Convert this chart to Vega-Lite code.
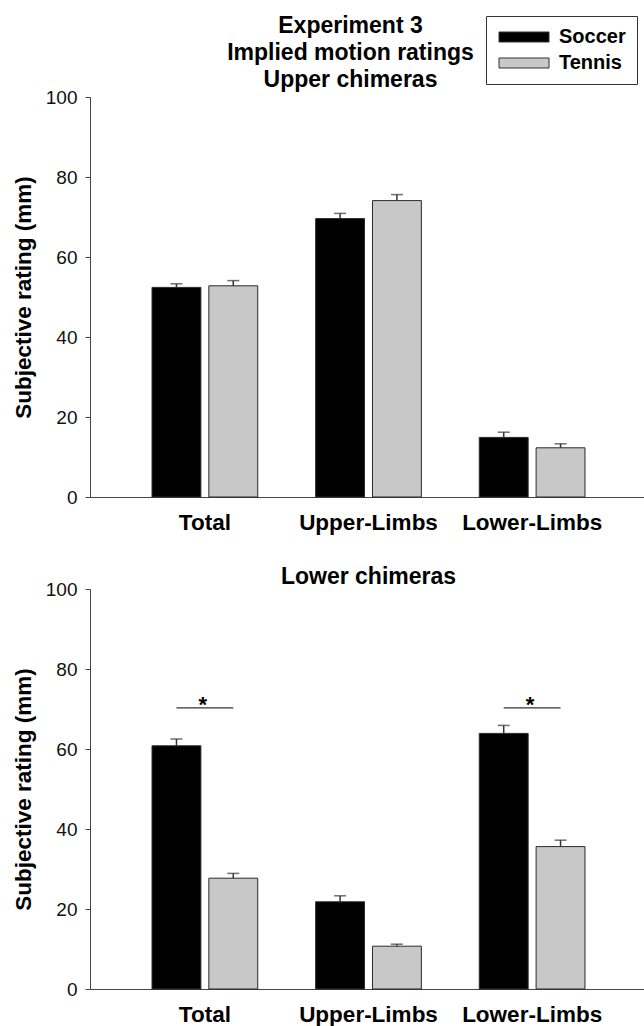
{
  "$schema": "https://vega.github.io/schema/vega-lite/v6.json",
  "padding": {"left": 12, "top": 14, "right": 0, "bottom": 0},
  "config": {
    "font": "Liberation Sans",
    "view": {"stroke": null},
    "axisX": {"labelFontSize": 22.5, "labelFontWeight": "bold", "ticks": false, "labelPadding": 14, "domainColor": "#444444", "labelColor": "#000000", "labelAngle": 0, "title": null},
    "axisY": {"labelFontSize": 19, "labelPadding": 8, "tickSize": 5, "grid": false, "domainColor": "#444444", "tickColor": "#444444", "labelColor": "#111111", "titleFontSize": 22.5, "titleFontWeight": "bold", "titlePadding": 10, "titleColor": "#000000"}
  },
  "datasets": {
    "upper": [
      {"region": "Total", "sport": "Soccer", "mean": 52.4, "upper": 53.3},
      {"region": "Total", "sport": "Tennis", "mean": 52.8, "upper": 54.1},
      {"region": "Upper-Limbs", "sport": "Soccer", "mean": 69.6, "upper": 70.9},
      {"region": "Upper-Limbs", "sport": "Tennis", "mean": 74.1, "upper": 75.6},
      {"region": "Lower-Limbs", "sport": "Soccer", "mean": 14.9, "upper": 16.2},
      {"region": "Lower-Limbs", "sport": "Tennis", "mean": 12.3, "upper": 13.3}
    ],
    "lower": [
      {"region": "Total", "sport": "Soccer", "mean": 60.8, "upper": 62.5},
      {"region": "Total", "sport": "Tennis", "mean": 27.7, "upper": 28.9},
      {"region": "Upper-Limbs", "sport": "Soccer", "mean": 21.8, "upper": 23.3},
      {"region": "Upper-Limbs", "sport": "Tennis", "mean": 10.7, "upper": 11.2},
      {"region": "Lower-Limbs", "sport": "Soccer", "mean": 63.9, "upper": 65.9},
      {"region": "Lower-Limbs", "sport": "Tennis", "mean": 35.6, "upper": 37.2}
    ],
    "sig": [
      {"region": "Total", "sport": "Soccer", "level": 70.3},
      {"region": "Total", "sport": "Tennis", "level": 70.3},
      {"region": "Lower-Limbs", "sport": "Soccer", "level": 70.3},
      {"region": "Lower-Limbs", "sport": "Tennis", "level": 70.3}
    ],
    "stars": [
      {"region": "Total", "level": 70.3, "label": "*"},
      {"region": "Lower-Limbs", "level": 70.3, "label": "*"}
    ]
  },
  "spacing": 32,
  "resolve": {"scale": {"color": "independent"}, "legend": {"color": "independent"}},
  "vconcat": [
    {
      "width": 557,
      "height": 400,
      "title": {"text": ["Experiment 3", "Implied motion ratings", "Upper chimeras"], "fontSize": 23, "fontWeight": "bold", "lineHeight": 27, "anchor": "middle", "dx": -18, "dy": 82, "offset": 6, "color": "#000000"},
      "data": {"name": "upper"},
      "encoding": {
        "x": {"field": "region", "type": "nominal", "sort": ["Total", "Upper-Limbs", "Lower-Limbs"], "scale": {"paddingInner": 0.354, "paddingOuter": 0.379}},
        "xOffset": {"field": "sport", "type": "nominal", "sort": ["Soccer", "Tennis"], "scale": {"paddingInner": 0.14, "paddingOuter": 0}}
      },
      "layer": [
        {
          "mark": {"type": "bar", "stroke": "#2a2a2a", "strokeWidth": 1},
          "encoding": {
            "y": {"field": "mean", "type": "quantitative", "scale": {"domain": [0, 100]}, "axis": {"title": "Subjective rating (mm)", "values": [0, 20, 40, 60, 80, 100]}},
            "color": {"field": "sport", "type": "nominal", "scale": {"domain": ["Soccer", "Tennis"], "range": ["#000000", "#c8c8c8"]},
              "legend": {"title": null, "orient": "none", "legendX": 396, "legendY": -81, "direction": "vertical", "symbolType": "M-1.6,-1H8.4V1H-1.6Z", "symbolSize": 100, "symbolStrokeColor": "#333333", "symbolStrokeWidth": 1, "labelFontSize": 20, "labelFontWeight": "bold", "labelOffset": 42, "padding": 11, "rowPadding": 6, "strokeColor": "#333333", "fillColor": "#ffffff", "labelColor": "#000000"}}
          }
        },
        {
          "mark": {"type": "rule", "color": "#333333", "strokeWidth": 1.5},
          "encoding": {"y": {"field": "mean", "type": "quantitative"}, "y2": {"field": "upper"}}
        },
        {
          "mark": {"type": "tick", "color": "#333333", "size": 12, "thickness": 1.5},
          "encoding": {"y": {"field": "upper", "type": "quantitative"}}
        }
      ]
    },
    {
      "width": 557,
      "height": 400,
      "title": {"text": "Lower chimeras", "fontSize": 23, "fontWeight": "bold", "anchor": "middle", "offset": 2, "dy": 11, "color": "#000000"},
      "encoding": {
        "x": {"field": "region", "type": "nominal", "sort": ["Total", "Upper-Limbs", "Lower-Limbs"], "scale": {"paddingInner": 0.354, "paddingOuter": 0.379}}
      },
      "layer": [
        {
          "data": {"name": "lower"},
          "mark": {"type": "bar", "stroke": "#2a2a2a", "strokeWidth": 1},
          "encoding": {
            "xOffset": {"field": "sport", "type": "nominal", "sort": ["Soccer", "Tennis"], "scale": {"paddingInner": 0.14, "paddingOuter": 0}},
            "y": {"field": "mean", "type": "quantitative", "scale": {"domain": [0, 100]}, "axis": {"title": "Subjective rating (mm)", "values": [0, 20, 40, 60, 80, 100]}},
            "color": {"field": "sport", "type": "nominal", "scale": {"domain": ["Soccer", "Tennis"], "range": ["#000000", "#c8c8c8"]}, "legend": null}
          }
        },
        {
          "data": {"name": "lower"},
          "mark": {"type": "rule", "color": "#333333", "strokeWidth": 1.5},
          "encoding": {"xOffset": {"field": "sport", "type": "nominal", "sort": ["Soccer", "Tennis"]}, "y": {"field": "mean", "type": "quantitative"}, "y2": {"field": "upper"}}
        },
        {
          "data": {"name": "lower"},
          "mark": {"type": "tick", "color": "#333333", "size": 12, "thickness": 1.5},
          "encoding": {"xOffset": {"field": "sport", "type": "nominal", "sort": ["Soccer", "Tennis"]}, "y": {"field": "upper", "type": "quantitative"}}
        },
        {
          "data": {"name": "sig"},
          "mark": {"type": "line", "color": "#333333", "strokeWidth": 1.3},
          "encoding": {"xOffset": {"field": "sport", "type": "nominal", "sort": ["Soccer", "Tennis"]}, "y": {"field": "level", "type": "quantitative"}, "detail": {"field": "region"}}
        },
        {
          "data": {"name": "stars"},
          "mark": {"type": "text", "fontSize": 22, "fontWeight": "bold", "baseline": "alphabetic", "dy": 4, "dx": -2, "color": "#000000"},
          "encoding": {"y": {"field": "level", "type": "quantitative"}, "text": {"field": "label"}}
        }
      ]
    }
  ]
}
